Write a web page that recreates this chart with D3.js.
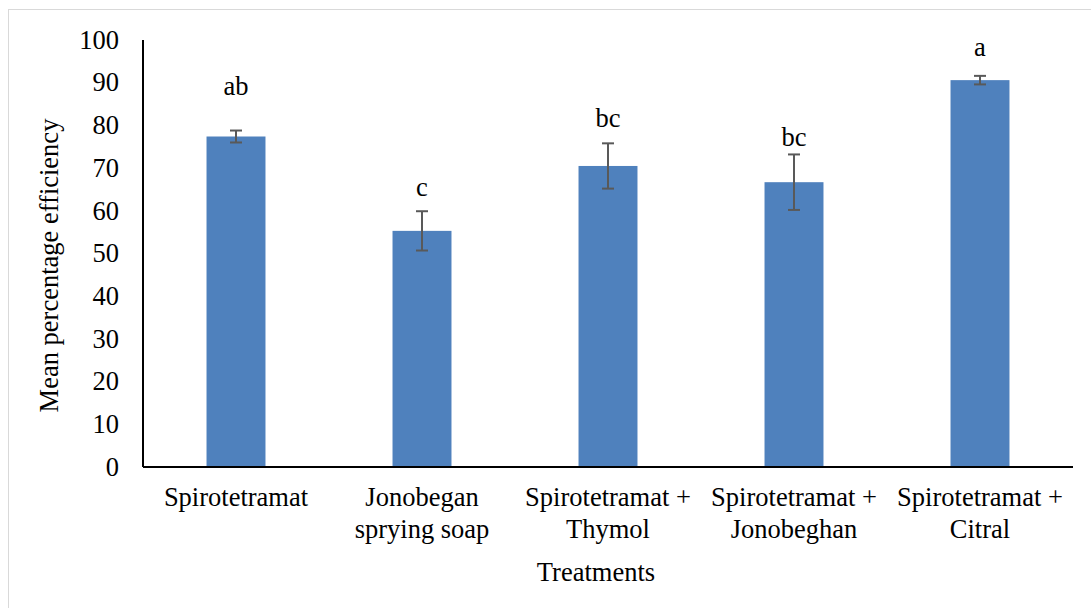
<!DOCTYPE html>
<html>
<head>
<meta charset="utf-8">
<script src="https://cdn.jsdelivr.net/npm/d3@7"></script>
<style>
  body { margin: 0; background: #fff; }
  text { font-family: "Liberation Serif", "Times New Roman", serif; fill: #000; }
</style>
</head>
<body>
<svg></svg>
<script>
var treatments = [
  ["Spirotetramat"],
  ["Jonobegan", "sprying soap"],
  ["Spirotetramat +", "Thymol"],
  ["Spirotetramat +", "Jonobeghan"],
  ["Spirotetramat +", "Citral"]
];
var means = [77.4, 55.3, 70.5, 66.7, 90.6];
var errors = [1.4, 4.6, 5.3, 6.5, 1.0];
var letters = ["ab", "c", "bc", "bc", "a"];
var letterLevels = [89.2, 65.6, 81.7, 77.3, 98.4];
var yTicks = [0, 10, 20, 30, 40, 50, 60, 70, 80, 90, 100];

var width = 1091;
var height = 608;
var margin = {left: 143, right: 18, top: 40, bottom: 141};
var fs = "26.5px";

var svg = d3.select("svg")
    .attr("width", width)
    .attr("height", height);

// outer frame
svg.append("rect")
    .attr("x", 8.5).attr("y", 9.5)
    .attr("width", 1100).attr("height", 620)
    .attr("fill", "none")
    .attr("stroke", "#d9d9d9")
    .attr("stroke-width", 1);

var x = d3.scaleBand()
    .domain(d3.range(treatments.length))
    .range([margin.left, width - margin.right])
    .paddingInner(0.683)
    .paddingOuter(0.3415);

var y = d3.scaleLinear()
    .domain([0, 100])
    .range([height - margin.bottom, margin.top]);

// y tick labels
svg.selectAll(".ytick")
    .data(yTicks)
    .enter()
    .append("text")
      .attr("class", "ytick")
      .attr("x", 119)
      .attr("y", function(d) { return y(d); })
      .attr("dy", "0.33em")
      .attr("text-anchor", "end")
      .style("font-size", fs)
      .text(function(d) { return d; });

// bars
svg.selectAll(".bar")
    .data(means)
    .enter()
    .append("rect")
      .attr("class", "bar")
      .attr("x", function(d, i) { return x(i); })
      .attr("y", function(d) { return y(d); })
      .attr("width", x.bandwidth())
      .attr("height", function(d) { return y(0) - y(d); })
      .attr("fill", "#4f81bd");

// error bars
var eb = svg.selectAll(".err")
    .data(means)
    .enter()
    .append("g")
      .attr("class", "err")
      .attr("stroke", "#595959")
      .attr("stroke-width", 2);

eb.append("line")
    .attr("x1", function(d, i) { return x(i) + x.bandwidth() / 2; })
    .attr("x2", function(d, i) { return x(i) + x.bandwidth() / 2; })
    .attr("y1", function(d, i) { return y(d + errors[i]); })
    .attr("y2", function(d, i) { return y(d - errors[i]); });

[1, -1].forEach(function(s) {
  eb.append("line")
      .attr("x1", function(d, i) { return x(i) + x.bandwidth() / 2 - 6; })
      .attr("x2", function(d, i) { return x(i) + x.bandwidth() / 2 + 6; })
      .attr("y1", function(d, i) { return y(d + s * errors[i]); })
      .attr("y2", function(d, i) { return y(d + s * errors[i]); });
});

// significance letters
svg.selectAll(".letter")
    .data(letters)
    .enter()
    .append("text")
      .attr("class", "letter")
      .attr("x", function(d, i) { return x(i) + x.bandwidth() / 2; })
      .attr("y", function(d, i) { return y(letterLevels[i]); })
      .attr("dy", "0.33em")
      .attr("text-anchor", "middle")
      .style("font-size", fs)
      .text(function(d) { return d; });

// axes lines
svg.append("line")
    .attr("x1", margin.left).attr("x2", margin.left)
    .attr("y1", y(100)).attr("y2", y(0))
    .attr("stroke", "#000").attr("stroke-width", 2);
svg.append("line")
    .attr("x1", margin.left).attr("x2", width - margin.right)
    .attr("y1", y(0)).attr("y2", y(0))
    .attr("stroke", "#000").attr("stroke-width", 2);

// category labels
var cat = svg.selectAll(".cat")
    .data(treatments)
    .enter()
    .append("text")
      .attr("class", "cat")
      .attr("text-anchor", "middle")
      .style("font-size", fs)
      .attr("transform", function(d, i) {
        return "translate(" + (x(i) + x.bandwidth() / 2) + "," + 506 + ")";
      });

cat.selectAll("tspan")
    .data(function(d) { return d; })
    .enter()
    .append("tspan")
      .attr("x", 0)
      .attr("y", function(d, i) { return i * 32; })
      .text(function(d) { return d; });

// axis titles
svg.append("text")
    .attr("text-anchor", "middle")
    .attr("transform", "translate(58," + ((y(0) + y(100)) / 2 + 12) + ") rotate(-90)")
    .style("font-size", fs)
    .text("Mean percentage efficiency");

svg.append("text")
    .attr("x", 596)
    .attr("y", 581)
    .attr("text-anchor", "middle")
    .style("font-size", fs)
    .text("Treatments");
</script>
</body>
</html>
